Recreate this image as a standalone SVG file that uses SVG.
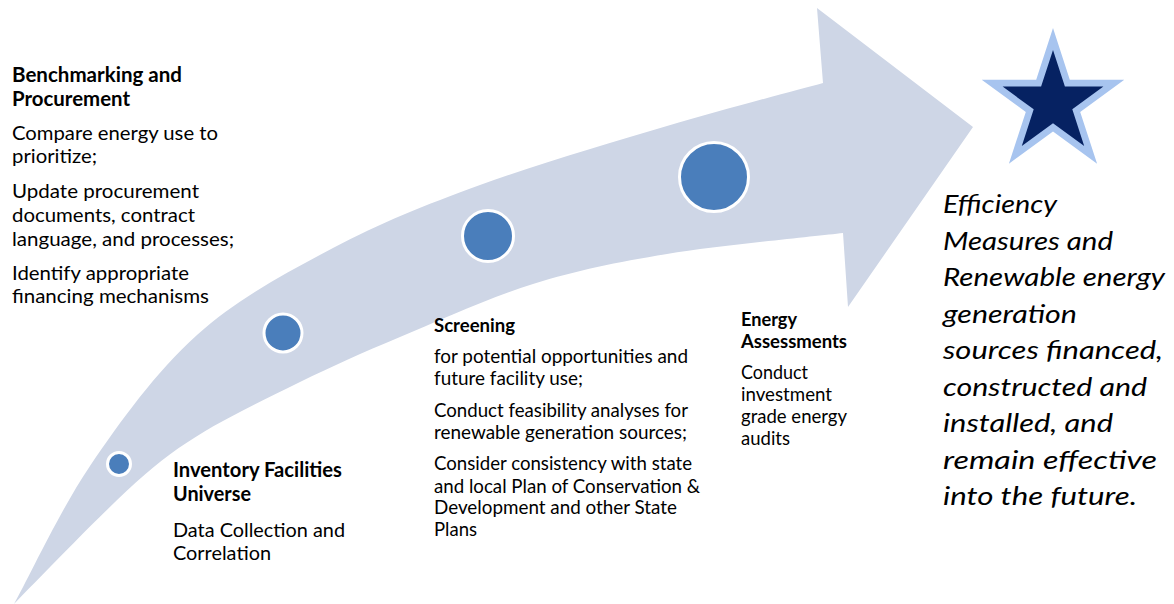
<svg xmlns="http://www.w3.org/2000/svg" width="1174" height="604" viewBox="0 0 1174 604">
  <style>
    .band { fill: #CED6E6; }
    .dot { fill: #4A7EBB; stroke: #FFFFFF; stroke-width: 3; }
    .hd { font-family: Lato, "Liberation Sans", sans-serif; font-weight: bold; fill: #000000; }
    .tx { font-family: Lato, "Liberation Sans", sans-serif; fill: #000000; }
    .goal { font-family: Lato, "Liberation Sans", sans-serif; font-style: italic; fill: #000000; font-size: 25px; }
  </style>
  <rect width="1174" height="604" fill="#FFFFFF"/>

  <!-- curved progress arrow -->
  <g id="connectors">
    <path class="band" d="M14,604
      C27.5,580.2 59.7,510.7 90,466
      C120.3,421.3 156.5,371.3 197,335
      C237.5,298.7 285.8,273 333,248
      C380.2,223 424.3,205.3 480,185
      C535.7,164.7 609.8,143 667,126
      C724.2,109 797,90.2 823,83
      L817,8 L973,127 L848,307 L843,233
      C813.7,236.5 718.7,245.5 667,254
      C615.3,262.5 577.5,270.2 533,284
      C488.5,297.8 438.8,320.7 400,337
      C361.2,353.3 333.3,365.7 300,382
      C166,448 166,448 14,604 Z"/>
  </g>

  <!-- stage 1 -->
  <g id="inventory">
    <circle class="dot" cx="119" cy="464" r="11.5"/>
    <g font-size="20">
      <text class="hd" x="173" y="477" textLength="169" lengthAdjust="spacingAndGlyphs">Inventory Facilities</text>
      <text class="hd" x="173" y="501" textLength="78" lengthAdjust="spacingAndGlyphs">Universe</text>
      <text class="tx" x="173" y="537" textLength="172" lengthAdjust="spacingAndGlyphs">Data Collection and</text>
      <text class="tx" x="173" y="560" textLength="98" lengthAdjust="spacingAndGlyphs">Correlation</text>
    </g>
  </g>

  <!-- stage 2 -->
  <g id="benchmarking">
    <circle class="dot" cx="283" cy="333" r="19"/>
    <g font-size="20">
      <text class="hd" x="12" y="82" textLength="170" lengthAdjust="spacingAndGlyphs">Benchmarking and</text>
      <text class="hd" x="12" y="106" textLength="118" lengthAdjust="spacingAndGlyphs">Procurement</text>
      <text class="tx" x="12" y="140" textLength="206" lengthAdjust="spacingAndGlyphs">Compare energy use to</text>
      <text class="tx" x="12" y="163" textLength="85" lengthAdjust="spacingAndGlyphs">prioritize;</text>
      <text class="tx" x="12" y="198" textLength="187" lengthAdjust="spacingAndGlyphs">Update procurement</text>
      <text class="tx" x="12" y="222" textLength="183" lengthAdjust="spacingAndGlyphs">documents, contract</text>
      <text class="tx" x="12" y="246" textLength="222" lengthAdjust="spacingAndGlyphs">language, and processes;</text>
      <text class="tx" x="12" y="280" textLength="177" lengthAdjust="spacingAndGlyphs">Identify appropriate</text>
      <text class="tx" x="12" y="303" textLength="197" lengthAdjust="spacingAndGlyphs">financing mechanisms</text>
    </g>
  </g>

  <!-- stage 3 -->
  <g id="screening">
    <circle class="dot" cx="488" cy="236" r="25.5"/>
    <g font-size="19">
      <text class="hd" x="434" y="332" textLength="81" lengthAdjust="spacingAndGlyphs">Screening</text>
      <text class="tx" x="434" y="362.5" textLength="254" lengthAdjust="spacingAndGlyphs">for potential opportunities and</text>
      <text class="tx" x="434" y="385" textLength="149" lengthAdjust="spacingAndGlyphs">future facility use;</text>
      <text class="tx" x="434" y="417" textLength="254" lengthAdjust="spacingAndGlyphs">Conduct feasibility analyses for</text>
      <text class="tx" x="434" y="439" textLength="253" lengthAdjust="spacingAndGlyphs">renewable generation sources;</text>
      <text class="tx" x="434" y="470" textLength="258" lengthAdjust="spacingAndGlyphs">Consider consistency with state</text>
      <text class="tx" x="434" y="492.5" textLength="266" lengthAdjust="spacingAndGlyphs">and local Plan of Conservation &amp;</text>
      <text class="tx" x="434" y="514" textLength="243" lengthAdjust="spacingAndGlyphs">Development and other State</text>
      <text class="tx" x="434" y="536" textLength="43" lengthAdjust="spacingAndGlyphs">Plans</text>
    </g>
  </g>

  <!-- stage 4 -->
  <g id="assessments">
    <circle class="dot" cx="714" cy="177" r="34.5"/>
    <g font-size="19">
      <text class="hd" x="741" y="326" textLength="56" lengthAdjust="spacingAndGlyphs">Energy</text>
      <text class="hd" x="741" y="348" textLength="106" lengthAdjust="spacingAndGlyphs">Assessments</text>
      <text class="tx" x="741" y="379" textLength="67" lengthAdjust="spacingAndGlyphs">Conduct</text>
      <text class="tx" x="741" y="401" textLength="91" lengthAdjust="spacingAndGlyphs">investment</text>
      <text class="tx" x="741" y="423" textLength="106" lengthAdjust="spacingAndGlyphs">grade energy</text>
      <text class="tx" x="741" y="445" textLength="49" lengthAdjust="spacingAndGlyphs">audits</text>
    </g>
  </g>

  <!-- goal -->
  <g id="goal">
    <polygon fill="#A7C4EF" points="1053,28 1069.8,79.8 1124.3,79.8 1080.2,111.9 1097.1,163.7 1053,131.6 1008.9,163.7 1025.8,111.9 981.7,79.8 1036.2,79.8"/>
    <polygon fill="#062262" points="1053,50 1064.9,86.6 1103.4,86.6 1072.3,109.3 1084.2,145.9 1053,123.25 1021.8,145.9 1033.7,109.3 1002.6,86.6 1041.1,86.6"/>
    <text class="goal" x="943" y="213" textLength="114" lengthAdjust="spacingAndGlyphs">Efficiency</text>
    <text class="goal" x="943" y="249.5" textLength="170" lengthAdjust="spacingAndGlyphs">Measures and</text>
    <text class="goal" x="943" y="286" textLength="222" lengthAdjust="spacingAndGlyphs">Renewable energy</text>
    <text class="goal" x="943" y="322.5" textLength="134" lengthAdjust="spacingAndGlyphs">generation</text>
    <text class="goal" x="943" y="359" textLength="220" lengthAdjust="spacingAndGlyphs">sources financed,</text>
    <text class="goal" x="943" y="395.5" textLength="204" lengthAdjust="spacingAndGlyphs">constructed and</text>
    <text class="goal" x="943" y="432" textLength="170" lengthAdjust="spacingAndGlyphs">installed, and</text>
    <text class="goal" x="943" y="468.5" textLength="214" lengthAdjust="spacingAndGlyphs">remain effective</text>
    <text class="goal" x="943" y="505" textLength="194" lengthAdjust="spacingAndGlyphs">into the future.</text>
  </g>
</svg>
